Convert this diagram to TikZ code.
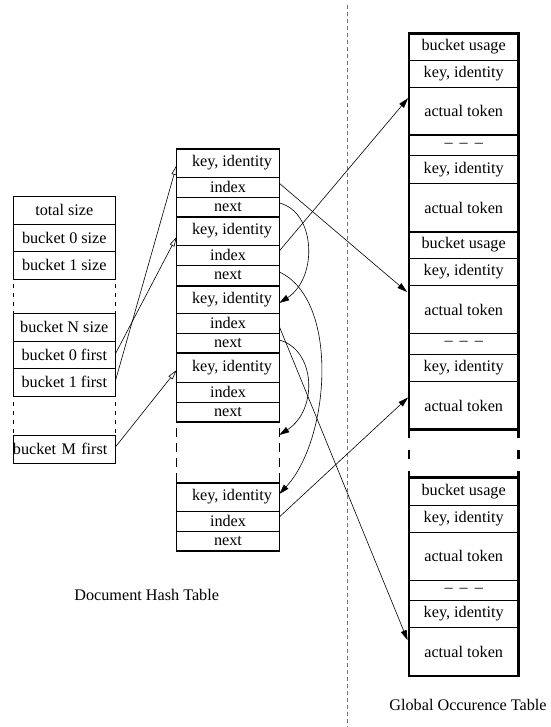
\documentclass[tikz,border=0pt]{standalone}
\usepackage{fontspec}
\setmainfont{Liberation Serif}
\usetikzlibrary{arrows.meta}
\begin{document}
\begin{tikzpicture}[x=1pt,y=-1pt,
  every node/.style={font=\fontsize{16.2}{19}\selectfont, inner sep=0pt, outer sep=0pt},
  lcell/.style={draw, line width=0.9pt, minimum width=102.7pt},
  mcell/.style={draw, line width=0.8pt, minimum width=102.6pt},
  rcell/.style={draw, line width=0.9pt, minimum width=109.3pt},
  blockline/.style={line width=1.3pt},
  sectline/.style={line width=2.4pt},
  ptr/.style={line width=0.6pt, -{Triangle[open,length=10pt,width=5pt]}},
  link/.style={line width=0.6pt, -{Triangle[length=10pt,width=6pt]}},
  gapside/.style={line width=0.9pt, dash pattern=on 4pt off 5pt},
  midgap/.style={line width=1pt, dash pattern=on 9pt off 6pt},
  rgap/.style={line width=2.4pt, dash pattern=on 9pt off 12pt},
  sepline/.style={draw=black!55, line width=1.2pt, dash pattern=on 4pt off 3pt}]
\useasboundingbox (0,0) rectangle (550,727);

% separator
\draw[sepline] (347.7,5) -- (347.7,727);

% ---------- left table ----------
\node[lcell, minimum height=28pt] (ts)  at (64.3,210)   {total size};
\node[lcell, minimum height=27pt] (b0s) at (64.3,237.5) {bucket 0 size};
\node[lcell, minimum height=28pt] (b1s) at (64.3,265)   {bucket 1 size};
\node[lcell, minimum height=28pt] (bNs) at (64.3,327)   {bucket N size};
\node[lcell, minimum height=27pt] (b0f) at (64.3,354.5) {bucket 0 first};
\node[lcell, minimum height=28pt] (b1f) at (64.3,382)   {bucket 1 first};
\node[lcell, minimum height=28pt, text width=102.7pt, align=left] (bMf) at (64.3,449) {bucket M first};
\draw[gapside] (12.95,284) -- (12.95,313);
\draw[gapside] (115.65,284) -- (115.65,313);
\draw[gapside] (12.95,402) -- (12.95,435);
\draw[gapside] (115.65,402) -- (115.65,435);

% ---------- middle table ----------
\node[mcell, minimum height=28pt] (k1) at (228,163)   {\hspace*{8pt}key, identity};
\node[mcell, minimum height=20pt] (i1) at (228,187)   {index};
\node[mcell, minimum height=20pt] (n1) at (228,207)   {next};
\node[mcell, minimum height=28pt] (k2) at (228,231)   {\hspace*{8pt}key, identity};
\node[mcell, minimum height=20pt] (i2) at (228,255)   {index};
\node[mcell, minimum height=21pt] (n2) at (228,275.5) {next};
\node[mcell, minimum height=27pt] (k3) at (228,299.5) {\hspace*{8pt}key, identity};
\node[mcell, minimum height=20pt] (i3) at (228,323)   {index};
\node[mcell, minimum height=20pt] (n3) at (228,343)   {next};
\node[mcell, minimum height=29pt] (k4) at (228,367.5) {\hspace*{8pt}key, identity};
\node[mcell, minimum height=20pt] (i4) at (228,392)   {index};
\node[mcell, minimum height=20pt] (n4) at (228,412)   {next};
\node[mcell, minimum height=28pt] (k5) at (228,497)   {\hspace*{8pt}key, identity};
\node[mcell, minimum height=20pt] (i5) at (228,521)   {index};
\node[mcell, minimum height=20pt] (n5) at (228,541)   {next};
\draw[blockline] (k1.north west) rectangle (n1.south east);
\draw[blockline] (k2.north west) rectangle (n2.south east);
\draw[blockline] (k3.north west) rectangle (n3.south east);
\draw[blockline] (k4.north west) rectangle (n4.south east);
\draw[blockline] (k5.north west) rectangle (n5.south east);
\draw[midgap] (176.7,428) -- (176.7,483);
\draw[midgap] (279.3,428) -- (279.3,483);
\coordinate (gap) at (279.3,435);

% ---------- right table ----------
\node[rcell, minimum height=26.7pt] (bu1)  at (463.7,46.7)  {bucket usage};
\node[rcell, minimum height=27.3pt] (ky1a) at (463.7,73.7)  {key, identity};
\node[rcell, minimum height=47.7pt] (tk1a) at (463.7,111.2) {actual token};
\node[rcell, minimum height=20.7pt] (ds1)  at (463.7,145.3) {–\hspace{7pt}–\hspace{7pt}–};
\node[rcell, minimum height=27.6pt] (ky1b) at (463.7,169.5) {key, identity};
\node[rcell, minimum height=48.4pt] (tk1b) at (463.7,207.5) {actual token};

\node[rcell, minimum height=26.6pt] (bu2)  at (463.7,245)   {bucket usage};
\node[rcell, minimum height=27.4pt] (ky2a) at (463.7,272)   {key, identity};
\node[rcell, minimum height=47.6pt] (tk2a) at (463.7,309.5) {actual token};
\node[rcell, minimum height=21pt]   (ds2)  at (463.7,343.8) {–\hspace{7pt}–\hspace{7pt}–};
\node[rcell, minimum height=27.4pt] (ky2b) at (463.7,368)   {key, identity};
\node[rcell, minimum height=47.6pt] (tk2b) at (463.7,405.5) {actual token};

\node[rcell, minimum height=27.7pt] (bu3)  at (463.7,491.2) {bucket usage};
\node[rcell, minimum height=27.3pt] (ky3a) at (463.7,518.7) {key, identity};
\node[rcell, minimum height=47.7pt] (tk3a) at (463.7,556.2) {actual token};
\node[rcell, minimum height=20pt]   (ds3)  at (463.7,590)   {–\hspace{7pt}–\hspace{7pt}–};
\node[rcell, minimum height=27.3pt] (ky3b) at (463.7,613.7) {key, identity};
\node[rcell, minimum height=48.7pt] (tk3b) at (463.7,651.7) {actual token};

\draw[sectline] (bu1.north west) rectangle (tk1b.south east);
\draw[sectline] (bu2.north west) rectangle (tk2b.south east);
\draw[sectline] (bu3.north west) rectangle (tk3b.south east);
\draw[rgap] (409.05,429.3) -- (409.05,477.3);
\draw[rgap] (518.35,429.3) -- (518.35,477.3);

% ---------- labels ----------
\node (dht) at (146.7,595) {Document Hash Table};
\node (got) at (468,705) {Global Occurence Table};

% ---------- left pointers ----------
\draw[ptr] ([yshift=1.2pt]b0f.east) -- ([yshift=-5.7pt]k2.west);
\draw[ptr] ([yshift=2pt]b1f.east) -- ([yshift=-2pt]k1.west);
\draw[ptr] ([yshift=2.3pt]bMf.east) -- ([yshift=-2.5pt]k4.west);

% ---------- index pointers ----------
\draw[link] ([yshift=3.7pt]i1.east) -- ([xshift=-2pt,yshift=17.5pt]tk2a.west);
\draw[link] ([yshift=4pt]i2.east) -- ([xshift=-1pt,yshift=13pt]tk1a.west);
\draw[link] ([yshift=-3.5pt]i3.east) -- ([xshift=-1.5pt,yshift=11.5pt]tk3b.west);
\draw[link] ([yshift=4pt]i5.east) -- ([xshift=-1pt,yshift=8pt]tk2b.west);

% ---------- next pointers ----------
\draw[link] ([yshift=4pt]n1.east) .. controls +(36.7,9) and +(38.7,-25) .. ([yshift=-3.5pt]k3.east);
\draw[link] ([yshift=3.5pt]n2.east) .. controls +(60.7,28) and +(50.7,-54) .. ([yshift=3pt]k5.east);
\draw[link] ([yshift=3pt]n3.east) .. controls +(36.7,10) and +(38.7,-25) .. (gap);
\end{tikzpicture}
\end{document}
